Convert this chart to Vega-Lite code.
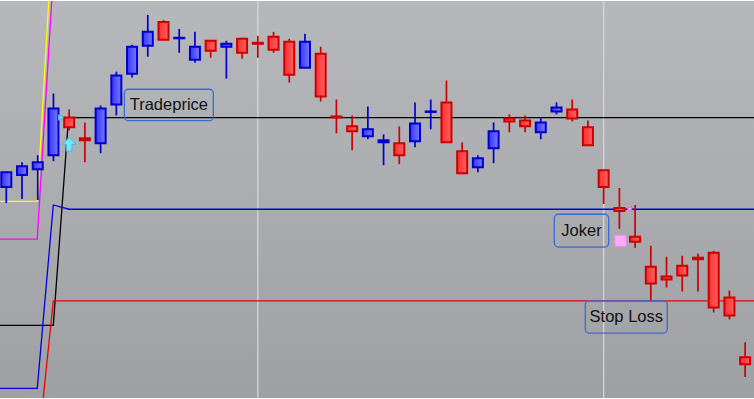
{
  "$schema": "https://vega.github.io/schema/vega-lite/v6.json",
  "width": 754,
  "height": 399,
  "padding": 0,
  "autosize": {"type": "fit", "contains": "padding"},
  "config": {
    "view": {"stroke": null, "fill": {"gradient": "linear", "x1": 0, "y1": 0, "x2": 0, "y2": 1, "stops": [{"offset": 0, "color": "#b7b8bc"}, {"offset": 1, "color": "#9fa0a4"}]}},
    "axis": {"grid": false}
  },
  "datasets": {
    "candles": [
      {"i": 0, "open": 213, "close": 228, "high": 228, "low": 197},
      {"i": 1, "open": 225, "close": 234, "high": 238, "low": 201},
      {"i": 2, "open": 231, "close": 238, "high": 245, "low": 200},
      {"i": 3, "open": 245, "close": 292, "high": 307, "low": 239},
      {"i": 4, "open": 283, "close": 273, "high": 291, "low": 270},
      {"i": 5, "open": 262, "close": 260, "high": 278, "low": 238},
      {"i": 6, "open": 257, "close": 292, "high": 295, "low": 247},
      {"i": 7, "open": 296, "close": 325, "high": 329, "low": 285},
      {"i": 8, "open": 327, "close": 354, "high": 356, "low": 323},
      {"i": 9, "open": 355, "close": 369, "high": 386, "low": 344},
      {"i": 10, "open": 379, "close": 361, "high": 381, "low": 361},
      {"i": 11, "open": 362.5, "close": 363, "high": 372, "low": 348},
      {"i": 12, "open": 341, "close": 354, "high": 369, "low": 338},
      {"i": 13, "open": 360, "close": 350, "high": 360, "low": 343},
      {"i": 14, "open": 354, "close": 357, "high": 360, "low": 322},
      {"i": 15, "open": 362, "close": 348, "high": 363, "low": 342},
      {"i": 16, "open": 358, "close": 357, "high": 365, "low": 343},
      {"i": 17, "open": 364, "close": 351, "high": 369, "low": 348},
      {"i": 18, "open": 359, "close": 326, "high": 362, "low": 318},
      {"i": 19, "open": 333, "close": 359, "high": 367, "low": 333},
      {"i": 20, "open": 347, "close": 304, "high": 354, "low": 299},
      {"i": 21, "open": 284, "close": 283, "high": 301, "low": 267},
      {"i": 22, "open": 274, "close": 269, "high": 285, "low": 250},
      {"i": 23, "open": 264, "close": 271, "high": 294, "low": 261},
      {"i": 24, "open": 258, "close": 260, "high": 266, "low": 235},
      {"i": 25, "open": 257, "close": 245, "high": 274, "low": 236},
      {"i": 26, "open": 259, "close": 277, "high": 298, "low": 253},
      {"i": 27, "open": 288.5, "close": 289, "high": 301, "low": 271},
      {"i": 28, "open": 298, "close": 258, "high": 320, "low": 258},
      {"i": 29, "open": 249, "close": 227, "high": 258, "low": 226},
      {"i": 30, "open": 233, "close": 242, "high": 245, "low": 228},
      {"i": 31, "open": 252, "close": 269, "high": 278, "low": 237},
      {"i": 32, "open": 282, "close": 279, "high": 286, "low": 268},
      {"i": 33, "open": 280, "close": 274, "high": 285, "low": 268},
      {"i": 34, "open": 268, "close": 278, "high": 283, "low": 261},
      {"i": 35, "open": 289, "close": 293, "high": 298, "low": 286},
      {"i": 36, "open": 291, "close": 282, "high": 301, "low": 279},
      {"i": 37, "open": 273, "close": 255, "high": 280, "low": 255},
      {"i": 38, "open": 230, "close": 213, "high": 230, "low": 196},
      {"i": 39, "open": 192, "close": 189, "high": 212, "low": 171},
      {"i": 40, "open": 163, "close": 158, "high": 195, "low": 152},
      {"i": 41, "open": 133, "close": 116, "high": 154, "low": 98},
      {"i": 42, "open": 123, "close": 120, "high": 143, "low": 112},
      {"i": 43, "open": 134, "close": 124, "high": 144, "low": 108},
      {"i": 44, "open": 142, "close": 140.5, "high": 146, "low": 108},
      {"i": 45, "open": 147, "close": 92, "high": 149, "low": 87},
      {"i": 46, "open": 102, "close": 84, "high": 109, "low": 80},
      {"i": 47, "open": 42, "close": 35, "high": 57, "low": 22}
    ],
    "lines": [
      {"series": "yellow", "o": 0, "i": -0.4, "p": 198.7},
      {"series": "yellow", "o": 1, "i": 1.97, "p": 198.7},
      {"series": "yellow", "o": 2, "i": 2.7, "p": 400},
      {"series": "magenta", "o": 0, "i": -0.4, "p": 160.7},
      {"series": "magenta", "o": 1, "i": 1.97, "p": 160.7},
      {"series": "magenta", "o": 2, "i": 2.89, "p": 400},
      {"series": "black", "o": 0, "i": -0.4, "p": 74},
      {"series": "black", "o": 1, "i": 2.99, "p": 74},
      {"series": "black", "o": 2, "i": 3.96, "p": 282.7},
      {"series": "black", "o": 3, "i": 47.6, "p": 282.7},
      {"series": "blue", "o": 0, "i": -0.4, "p": 10.7},
      {"series": "blue", "o": 1, "i": 1.97, "p": 10.7},
      {"series": "blue", "o": 2, "i": 2.99, "p": 195},
      {"series": "blue", "o": 3, "i": 3.99, "p": 190.7},
      {"series": "blue", "o": 4, "i": 47.6, "p": 190.7},
      {"series": "red", "o": 0, "i": 2.35, "p": 1},
      {"series": "red", "o": 1, "i": 2.99, "p": 98.7},
      {"series": "red", "o": 2, "i": 47.6, "p": 98.7}
    ],
    "grid": [{"i": 16}, {"i": 38}],
    "boxes": [
      {"label": "Tradeprice", "x1": 7.51, "x2": 13.17, "y1": 311.3, "y2": 279.7, "tx": 10.34, "ty": 295.5},
      {"label": "Joker", "x1": 34.86, "x2": 38.32, "y1": 185.7, "y2": 152.7, "tx": 36.59, "ty": 169.2},
      {"label": "Stop Loss", "x1": 36.83, "x2": 42.05, "y1": 98.7, "y2": 66.3, "tx": 39.44, "ty": 82.5}
    ],
    "markers": [
      {"kind": "arrow", "i": 4.0, "p": 256},
      {"kind": "tri", "i": 3.48, "p": 283},
      {"kind": "square", "i": 39.07, "p": 159},
      {"kind": "ltri", "i": 39.62, "p": 191}
    ]
  },
  "layer": [
    {
      "data": {"name": "grid"},
      "mark": {"type": "rule", "color": "#d9d9dc", "strokeWidth": 1.2},
      "encoding": {
        "x": {"field": "i", "type": "quantitative", "scale": {"domain": [-0.4008, 47.564], "nice": false, "zero": false, "padding": 0}, "axis": null}
      }
    },
    {
      "data": {"name": "lines"},
      "mark": {"type": "line", "strokeWidth": 1.3, "clip": true},
      "encoding": {
        "x": {"field": "i", "type": "quantitative", "axis": null},
        "y": {"field": "p", "type": "quantitative", "scale": {"domain": [1, 400], "nice": false, "zero": false, "padding": 0}, "axis": null},
        "order": {"field": "o", "type": "quantitative"},
        "color": {"field": "series", "type": "nominal", "legend": null, "scale": {"domain": ["yellow", "magenta", "black", "blue", "red"], "range": ["#ffff00", "#ff00ff", "#000000", "#0000dd", "#ee0000"]}}
      }
    },
    {
      "data": {"name": "candles"},
      "mark": {"type": "rule", "strokeWidth": 1.7},
      "encoding": {
        "x": {"field": "i", "type": "quantitative", "axis": null},
        "y": {"field": "low", "type": "quantitative", "axis": null},
        "y2": {"field": "high"},
        "color": {"condition": {"test": "datum.close > datum.open", "value": "#0000cc"}, "value": "#cc0000"}
      }
    },
    {
      "data": {"name": "candles"},
      "transform": [{"filter": "datum.close > datum.open"}],
      "mark": {"type": "bar", "orient": "vertical", "size": 10, "stroke": "#0000cc", "strokeWidth": 2,
        "fill": {"gradient": "linear", "x1": 0, "y1": 0, "x2": 1, "y2": 0, "stops": [{"offset": 0, "color": "#3535ff"}, {"offset": 1, "color": "#7878ff"}]}},
      "encoding": {
        "x": {"field": "i", "type": "quantitative", "axis": null},
        "y": {"field": "open", "type": "quantitative", "axis": null},
        "y2": {"field": "close"}
      }
    },
    {
      "data": {"name": "candles"},
      "transform": [{"filter": "datum.close <= datum.open"}],
      "mark": {"type": "bar", "orient": "vertical", "size": 10, "stroke": "#cc0000", "strokeWidth": 2,
        "fill": {"gradient": "linear", "x1": 0, "y1": 0, "x2": 1, "y2": 0, "stops": [{"offset": 0, "color": "#ff2e2e"}, {"offset": 1, "color": "#ff6262"}]}},
      "encoding": {
        "x": {"field": "i", "type": "quantitative", "axis": null},
        "y": {"field": "open", "type": "quantitative", "axis": null},
        "y2": {"field": "close"}
      }
    },
    {
      "data": {"name": "markers"},
      "transform": [{"filter": "datum.kind == 'arrow'"}],
      "mark": {"type": "point", "shape": "M0,-1L1,0L0.4,0L0.4,1L-0.4,1L-0.4,0L-1,0Z", "filled": true, "size": 190, "fill": "#77e6ff", "stroke": "#44b8d8", "strokeWidth": 1, "opacity": 1},
      "encoding": {
        "x": {"field": "i", "type": "quantitative", "axis": null},
        "y": {"field": "p", "type": "quantitative", "axis": null}
      }
    },
    {
      "data": {"name": "markers"},
      "transform": [{"filter": "datum.kind == 'tri'"}],
      "mark": {"type": "point", "shape": "triangle-right", "filled": true, "size": 30, "fill": "#77e6ff", "stroke": "#44b8d8", "strokeWidth": 1, "opacity": 1},
      "encoding": {
        "x": {"field": "i", "type": "quantitative", "axis": null},
        "y": {"field": "p", "type": "quantitative", "axis": null}
      }
    },
    {
      "data": {"name": "markers"},
      "transform": [{"filter": "datum.kind == 'square'"}],
      "mark": {"type": "point", "shape": "square", "filled": true, "size": 130, "fill": "#ffaaff", "stroke": "#e090e0", "strokeWidth": 1, "opacity": 1},
      "encoding": {
        "x": {"field": "i", "type": "quantitative", "axis": null},
        "y": {"field": "p", "type": "quantitative", "axis": null}
      }
    },
    {
      "data": {"name": "markers"},
      "transform": [{"filter": "datum.kind == 'ltri'"}],
      "mark": {"type": "point", "shape": "triangle-left", "filled": true, "size": 25, "fill": "#ffaaff", "stroke": "#dd66dd", "strokeWidth": 1, "opacity": 1},
      "encoding": {
        "x": {"field": "i", "type": "quantitative", "axis": null},
        "y": {"field": "p", "type": "quantitative", "axis": null}
      }
    },
    {
      "data": {"name": "boxes"},
      "mark": {"type": "rect", "fill": "#000000", "fillOpacity": 0, "stroke": "#3a6bd0", "strokeWidth": 1.3, "cornerRadius": 4},
      "encoding": {
        "x": {"field": "x1", "type": "quantitative", "axis": null},
        "x2": {"field": "x2"},
        "y": {"field": "y1", "type": "quantitative", "axis": null},
        "y2": {"field": "y2"}
      }
    },
    {
      "data": {"name": "boxes"},
      "mark": {"type": "text", "font": "Liberation Sans", "fontSize": 16.5, "color": "#111111", "align": "center", "baseline": "middle"},
      "encoding": {
        "x": {"field": "tx", "type": "quantitative", "axis": null},
        "y": {"field": "ty", "type": "quantitative", "axis": null},
        "text": {"field": "label"}
      }
    }
  ]
}
